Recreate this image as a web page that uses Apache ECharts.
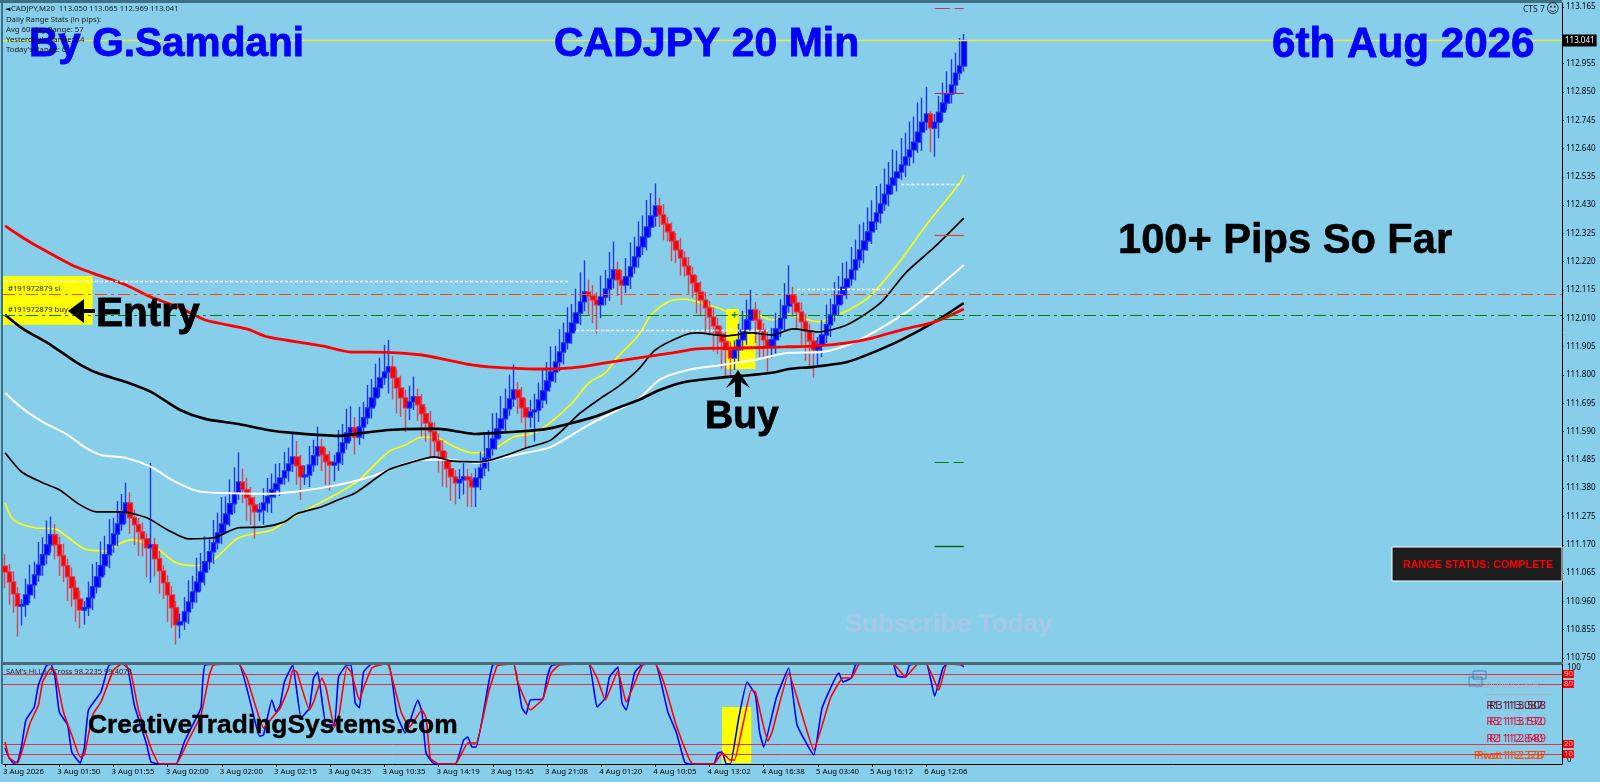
<!DOCTYPE html>
<html><head><meta charset="utf-8">
<style>html,body{margin:0;padding:0;background:#87CEEB}#c{width:1600px;height:782px}</style>
<script src="https://cdn.jsdelivr.net/npm/echarts@6/dist/echarts.min.js"></script>
</head><body><div id="c"></div>
<script>
const tickLabels=['3 Aug 2026','3 Aug 01:50','3 Aug 01:55','3 Aug 02:00','3 Aug 02:00','3 Aug 02:15','3 Aug 04:35','3 Aug 10:35','3 Aug 14:19','3 Aug 15:45','3 Aug 21:08','4 Aug 01:20','4 Aug 10:05','4 Aug 13:02','4 Aug 16:38','5 Aug 03:40','5 Aug 16:12','6 Aug 12:06'];
const priceTicks=[113.165,112.955,112.850,112.745,112.640,112.535,112.430,112.325,112.220,112.115,112.010,111.905,111.800,111.695,111.590,111.485,111.380,111.275,111.170,111.065,110.960,110.855,110.750];
const firstOpen=111.090;
const closes=[111.069,111.032,110.988,110.943,110.948,110.984,111.021,111.058,111.095,111.133,111.170,111.207,111.170,111.129,111.092,111.051,111.010,110.969,110.928,110.936,110.973,111.014,111.051,111.092,111.133,111.170,111.210,111.247,111.288,111.325,111.270,111.244,111.218,111.192,111.159,111.170,111.118,111.073,111.029,110.984,110.936,110.873,110.884,110.921,110.958,110.995,111.032,111.069,111.107,111.144,111.177,111.214,111.247,111.284,111.322,111.362,111.403,111.374,111.344,111.318,111.292,111.299,111.325,111.348,111.374,111.396,111.418,111.444,111.470,111.496,111.463,111.422,111.429,111.466,111.500,111.533,111.504,111.478,111.466,111.474,111.511,111.548,111.585,111.604,111.570,111.607,111.641,111.678,111.715,111.752,111.789,111.811,111.830,111.789,111.752,111.715,111.678,111.700,111.719,111.689,111.656,111.622,111.589,111.555,111.518,111.485,111.452,111.422,111.400,111.411,111.422,111.411,111.385,111.418,111.455,111.492,111.526,111.563,111.600,111.637,111.674,111.711,111.744,111.715,111.678,111.644,111.663,111.670,111.707,111.741,111.778,111.811,111.848,111.885,111.919,111.956,111.993,112.030,112.071,112.108,112.093,112.078,112.060,112.089,112.119,112.156,112.190,112.153,112.134,112.164,112.201,112.238,112.275,112.312,112.349,112.390,112.427,112.394,112.360,112.331,112.297,112.264,112.234,112.204,112.171,112.141,112.108,112.078,112.049,112.015,111.982,111.952,111.923,111.893,111.863,111.893,111.930,111.967,112.004,112.041,112.004,111.967,111.930,111.904,111.930,111.971,112.011,112.056,112.097,112.067,112.034,111.997,111.963,111.926,111.893,111.911,111.948,111.986,112.023,112.060,112.097,112.126,112.156,112.190,112.227,112.264,112.297,112.331,112.368,112.401,112.434,112.471,112.505,112.531,112.553,112.579,112.609,112.635,112.664,112.701,112.738,112.768,112.716,112.738,112.775,112.809,112.842,112.876,112.920,112.946,113.041];
// wick lengths in thousandths of a yen above the body top / below the body bottom
const wickUp=[45,30,40,25,20,60,75,50,85,65,90,68,40,30,45,25,35,28,30,25,60,85,55,90,70,95,60,85,70,75,40,30,25,35,20,303,25,30,20,28,32,25,30,55,80,60,90,70,95,55,85,75,100,65,90,96,110,50,45,40,30,25,55,70,60,75,55,70,60,85,60,40,35,70,60,75,30,25,40,30,85,70,90,80,40,75,60,85,70,90,75,100,100,40,35,45,30,60,75,30,40,25,45,35,28,40,30,35,25,40,50,30,25,35,60,85,70,95,60,85,75,90,95,30,40,35,45,60,65,85,70,95,60,85,75,95,70,90,110,118,45,40,30,80,70,100,105,30,35,70,90,75,95,80,100,85,83,30,40,25,35,30,45,25,35,30,28,40,30,25,35,30,28,35,30,35,60,70,75,75,30,35,25,30,45,60,70,85,110,30,25,35,30,25,30,30,55,75,60,85,70,90,65,85,75,95,70,90,80,100,75,95,85,105,80,100,90,105,95,110,90,100,10,30,60,75,85,95,75,104,24];
const wickDown=[60,85,70,113,73,45,30,50,25,40,35,30,55,75,60,90,70,85,68,55,30,45,25,40,35,50,30,45,25,40,60,75,90,65,110,130,65,85,60,100,75,73,50,30,45,25,40,35,50,30,45,25,40,30,45,35,25,50,85,75,100,35,55,35,60,30,45,25,40,30,70,86,30,45,25,35,60,85,95,60,30,45,25,30,65,30,45,25,40,30,35,25,80,80,95,70,90,45,30,60,85,70,95,60,80,100,70,90,80,60,55,100,75,75,45,30,50,25,40,35,45,25,30,60,55,114,40,110,45,30,50,25,40,35,45,25,40,30,45,35,70,85,105,50,30,45,35,60,74,30,45,25,40,30,50,35,40,45,60,35,75,50,65,40,70,55,80,60,90,70,95,75,100,100,73,45,50,40,55,35,85,100,70,94,40,50,30,45,25,50,65,85,110,95,103,60,45,30,45,25,40,35,45,25,40,30,50,35,45,30,40,25,45,35,50,30,45,35,50,40,70,30,90,106,60,35,25,35,30,25,20];
const maRedThick=[[0,112.353],[4,112.312],[8,112.275],[16,112.208],[21,112.178],[29,112.134],[35,112.089],[42,112.049],[48,112.004],[58,111.971],[63,111.941],[76,111.908],[83,111.885],[92,111.884],[100,111.874],[106,111.856],[112,111.837],[116,111.830],[127,111.822],[131,111.822],[138,111.830],[144,111.845],[152,111.863],[160,111.882],[166,111.897],[176,111.900],[187,111.904],[195,111.908],[202,111.919],[208,111.937],[216,111.971],[223,111.997],[230,112.045]];
const maBlackThick=[[0,112.023],[4,111.974],[11,111.911],[17,111.848],[22,111.808],[29,111.774],[35,111.737],[42,111.670],[48,111.637],[56,111.618],[63,111.596],[69,111.585],[80,111.574],[86,111.585],[92,111.596],[100,111.600],[104,111.600],[109,111.589],[113,111.581],[118,111.585],[125,111.592],[130,111.600],[136,111.622],[142,111.648],[147,111.678],[152,111.707],[157,111.744],[163,111.774],[171,111.789],[179,111.800],[184,111.808],[188,111.822],[194,111.830],[202,111.848],[208,111.882],[215,111.930],[223,111.997],[230,112.067]];
const maWhite=[[0,111.733],[4,111.678],[9,111.626],[15,111.578],[19,111.533],[23,111.503],[29,111.492],[35,111.459],[40,111.411],[46,111.370],[52,111.362],[63,111.359],[69,111.366],[76,111.381],[83,111.403],[89,111.429],[95,111.466],[100,111.485],[106,111.485],[113,111.474],[119,111.492],[125,111.511],[131,111.533],[140,111.615],[147,111.670],[152,111.711],[157,111.782],[164,111.819],[172,111.837],[180,111.856],[188,111.882],[196,111.885],[204,111.923],[216,112.030],[223,112.115],[230,112.208]];
const maBlackThin=[[0,111.511],[4,111.440],[9,111.400],[13,111.374],[18,111.318],[22,111.292],[28,111.292],[34,111.270],[39,111.225],[44,111.192],[50,111.196],[56,111.233],[62,111.236],[67,111.255],[70,111.285],[76,111.311],[80,111.337],[84,111.362],[92,111.448],[97,111.474],[103,111.496],[107,111.481],[114,111.477],[119,111.496],[125,111.529],[131,111.559],[138,111.659],[143,111.715],[147,111.756],[152,111.822],[156,111.893],[163,111.948],[166,111.956],[173,111.945],[179,111.956],[184,111.948],[189,111.971],[195,111.960],[202,111.986],[210,112.067],[216,112.178],[223,112.275],[230,112.382]];
const maYellow=[[0,111.325],[2,111.262],[7,111.233],[12,111.229],[15,111.199],[19,111.155],[24,111.147],[27,111.170],[30,111.188],[32,111.184],[36,111.162],[41,111.103],[46,111.092],[50,111.114],[56,111.196],[64,111.225],[69,111.273],[76,111.329],[80,111.362],[85,111.411],[92,111.515],[96,111.540],[100,111.570],[104,111.566],[107,111.540],[112,111.511],[116,111.515],[122,111.570],[127,111.585],[131,111.626],[136,111.696],[140,111.770],[144,111.808],[147,111.867],[152,111.948],[155,112.023],[159,112.071],[163,112.082],[167,112.067],[171,112.049],[176,112.019],[179,112.030],[184,112.004],[188,112.023],[195,111.997],[200,112.023],[207,112.086],[214,112.208],[221,112.356],[229,112.512],[230,112.542]];
const stochBlue=[[0,16],[1,6],[2,1],[3,2],[4,19],[5,44],[7,57],[8,79],[10,99],[11,100],[12,86],[13,52],[15,39],[16,12],[18,1],[19,16],[20,54],[23,72],[25,99],[29,100],[31,59],[34,19],[35,2],[37,0],[41,0],[43,22],[45,39],[47,56],[48,99],[56,100],[59,59],[61,28],[62,29],[64,64],[65,52],[66,59],[67,82],[69,99],[71,46],[73,56],[74,86],[75,92],[77,39],[79,39],[80,87],[82,99],[83,99],[84,61],[85,56],[86,92],[88,100],[92,100],[94,49],[96,31],[99,64],[100,52],[101,11],[103,0],[108,0],[110,24],[111,27],[112,17],[113,17],[116,81],[117,99],[119,100],[122,100],[124,56],[125,50],[126,64],[129,65],[130,86],[131,98],[133,100],[140,100],[142,57],[144,66],[145,87],[147,97],[148,61],[149,54],[151,91],[153,100],[156,100],[159,52],[161,32],[163,2],[164,0],[170,0],[171,11],[172,12],[173,0],[174,0],[176,46],[178,82],[180,69],[181,32],[182,17],[185,66],[188,96],[190,39],[194,9],[196,56],[200,91],[201,82],[203,86],[204,99],[205,100],[213,100],[214,88],[216,87],[217,99],[221,100],[223,68],[225,96],[226,100],[229,100],[230,97]];
const stochRed=[[0,22],[1,6],[3,1],[4,12],[6,41],[8,59],[9,82],[11,96],[12,92],[14,52],[16,29],[18,7],[19,9],[21,49],[23,62],[26,94],[28,100],[30,94],[32,54],[35,16],[37,0],[41,0],[44,24],[47,49],[49,89],[50,99],[56,100],[58,86],[60,59],[62,36],[64,46],[66,56],[68,76],[69,94],[70,92],[73,54],[74,62],[76,86],[77,76],[79,37],[80,46],[82,97],[83,92],[85,64],[86,76],[88,96],[91,100],[92,99],[95,52],[97,37],[100,54],[101,46],[102,6],[104,0],[108,0],[111,21],[113,21],[116,72],[118,98],[119,99],[122,100],[123,82],[126,54],[127,57],[129,65],[131,91],[133,99],[140,100],[142,86],[144,64],[147,93],[149,62],[152,91],[153,99],[156,100],[158,82],[161,39],[164,6],[165,0],[170,0],[172,11],[174,4],[175,4],[179,74],[180,72],[183,23],[184,32],[188,91],[191,52],[194,14],[198,66],[201,86],[203,86],[205,100],[213,100],[216,87],[219,100],[221,100],[224,74],[226,100],[230,99]];
const stochLevels=[90,80,20,10];

const BANDS=374;
const categories=Array.from({length:BANDS},(_,i)=>(i%13===0&&tickLabels[i/13])||'');
const candleData=closes.map((c,i)=>{
  const o=i?closes[i-1]:firstOpen;
  return [o,c,+(Math.min(o,c)-wickDown[i]/1000).toFixed(3),+(Math.max(o,c)+wickUp[i]/1000).toFixed(3)];
});
const seg=(a,b,p)=>[{coord:[a,p]},{coord:[b,p]}];
const FONT='"Liberation Sans",Arial,sans-serif', UI='"Noto Sans",Tahoma,sans-serif';
const txt=(x,y,text,fs,fill,o={})=>({type:'text',x,y,z:o.z||100,silent:true,style:{text,fontSize:fs,fontFamily:o.ff||FONT,fontWeight:o.w||'normal',fill,stroke:o.st||null,lineWidth:o.st?(o.lw||1):0,textAlign:o.a||'left',textVerticalAlign:'middle',opacity:o.op==null?1:o.op}});
const rect=(x,y,w,h,fill,o={})=>({type:'rect',z:o.z||1,silent:true,shape:{x,y,width:w,height:h},style:{fill:fill,stroke:o.s||null,lineWidth:o.lw||0}});
const poly=(points,fill)=>({type:'polygon',z:100,silent:true,shape:{points},style:{fill}});
const graphicEls=[
 rect(0,0,1562,3,'#3e6f84'),rect(1,0,2,764,'#3e6f84'),rect(3,662,1559,3,'#4a6a78',{z:60}),
 rect(3,276,4,49,'#ffff00',{z:1}),
 rect(1392,547,170,34,'#1e1e1e',{s:'#ffffff',lw:1,z:50}),
 txt(1403,565,'RANGE STATUS: COMPLETE',10.8,'#ff0000',{w:'bold',z:51}),
 txt(29,45,'By G.Samdani',40.6,'#0000ff',{w:'bold',st:'#0000ff',lw:.8}),
 txt(554,45,'CADJPY 20 Min',41,'#0000ff',{w:'bold',st:'#0000ff',lw:.8}),
 txt(1272,45,'6th Aug 2026',42.2,'#0000ff',{w:'bold',st:'#0000ff',lw:.8}),
 txt(1118,242,'100+ Pips So Far',41.6,'#000000',{w:'bold',st:'#000',lw:.6}),
 poly([[68,311],[84,299],[84,309],[95,309],[95,313],[84,313],[84,323]],'#000'),
 txt(96,315,'Entry',40.6,'#000000',{w:'bold',st:'#000',lw:.8}),
 poly([[738,370],[750,388],[741,382],[741,397],[735,397],[735,382],[726,388]],'#000'),
 txt(705,417,'Buy',39,'#000000',{w:'bold',st:'#000',lw:.8}),
 txt(88,726,'CreativeTradingSystems.com',26.4,'#000000',{w:'bold',st:'#000',lw:.4}),
 txt(845,625,'Subscribe Today',26,'#a8c8ea',{w:'bold'}),
 txt(5,9,'◄',7,'#000000',{z:110,ff:'"DejaVu Sans"'}),
 txt(11,9,'CADJPY,M20  113.050 113.065 112.969 113.041',7.7,'#1a1a1a',{z:110,ff:UI}),
 txt(6,20,'Daily Range Stats (in pips):',7.7,'#1a1a1a',{z:110,ff:UI}),
 txt(6,30,'Avg 60-day Range: 57',7.7,'#1a1a1a',{z:110,ff:UI}),
 txt(6,40,"Yesterday's Range: 84",7.7,'#1a1a1a',{z:110,ff:UI}),
 txt(6,50,"Today's Range: 61",7.7,'#1a1a1a',{z:110,ff:UI}),
 txt(8,289,'#191972879 sl',7.7,'#1a1a1a',{z:110,ff:UI}),
 txt(8,310,'#191972879 buy',7.7,'#1a1a1a',{z:110,ff:UI}),
 txt(1523,10,'CTS 7',8.5,'#1a1a1a',{z:110,ff:UI}),
 txt(1546,10,'☺',13,'#2a2a2a',{z:110,ff:'"DejaVu Sans"'}),
 txt(6,672,"SAM's Hi.Lo.2Cross 98.2235 99.4078",7.5,'#2a2a2a',{z:110,ff:UI}),
 rect(1473,671,13,8,'none',{s:'#4682b4',lw:1,z:70}),rect(1469,677,13,9,'none',{s:'#4682b4',lw:1,z:70}),
 rect(1480,677,73,1,'#a9b5c0',{z:65}),rect(1485,694,68,1,'#a9b5c0',{z:65}),
 txt(1476,686,'Daily Pivot Levels',8,'#a8b4c4',{z:65,ff:UI}),
 ...[['R3 113.508',706,'#701028'],['R2 113.570',722,'#dc143c'],['R1 112.589',739,'#dc143c'],['Pivot 112.537',756,'#ff4500']].map(r=>txt(1546,r[1],r[0],11,r[2],{a:'right',z:70,ff:UI})),
 ...[['R1 113.087',706,'#701028'],['R3 113.192',722,'#dc143c'],['R2 112.840',739,'#dc143c'],['Pivot 112.378',756,'#ff4500']].map(r=>txt(1543,r[1],r[0],11,r[2],{a:'right',z:70,ff:UI})),
];
const lineS=(name,data,color,width,z)=>({name,type:'line',data,xAxisIndex:0,yAxisIndex:0,symbol:'none',smooth:0.25,smoothConstraint:false,z,lineStyle:{color,width},silent:true});
const stochS=(name,data,color,extra)=>Object.assign({name,type:'line',data,xAxisIndex:1,yAxisIndex:1,symbol:'none',smooth:0.12,z:5,lineStyle:{color,width:1.6},silent:true},extra||{});
const dot=(a,b,p)=>[{...seg(a,b,p)[0],lineStyle:{color:'#fff',width:1.3,type:[3,2]},label:{show:false}},seg(a,b,p)[1]];
const lvl=(p,color,width,type)=>[{...seg(223,230,p)[0],lineStyle:{color,width,type},label:{show:false}},seg(223,230,p)[1]];
const chart=echarts.init(document.getElementById('c'),null,{renderer:'canvas'});
chart.setOption({
 animation:false,backgroundColor:'#87CEEB',
 graphic:{elements:graphicEls},
 grid:[{left:3,right:38,top:3,height:659},{left:3,right:38,top:664,height:100}],
 xAxis:[
  {type:'category',gridIndex:0,data:categories,show:false},
  {type:'category',gridIndex:1,data:categories,axisLine:{lineStyle:{color:'#000',width:1}},
   axisTick:{show:true,length:3,alignWithLabel:true,interval:i=>i%13===0&&i<=221,lineStyle:{color:'#000'}},
   axisLabel:{interval:12,align:'left',margin:4,color:'#000',fontSize:7.8,fontFamily:UI,showMinLabel:true,padding:[0,0,0,-2]}}
 ],
 yAxis:[
  {type:'value',gridIndex:0,position:'right',min:110.735,max:113.18,splitLine:{show:false},
   axisLine:{show:true,lineStyle:{color:'#000',width:1}},
   axisTick:{show:true,length:2,customValues:priceTicks,lineStyle:{color:'#000'}},
   axisLabel:{customValues:priceTicks,margin:4,color:'#000',fontSize:8,fontFamily:UI,formatter:v=>v.toFixed(3)}},
  {type:'value',gridIndex:1,position:'right',min:0,max:100,interval:100,splitLine:{show:false},
   axisLine:{show:true,lineStyle:{color:'#000',width:1}},axisTick:{show:false},
   axisLabel:{margin:5,color:'#000',fontSize:8,fontFamily:UI,verticalAlignMaxLabel:'top',verticalAlignMinLabel:'bottom'}}
 ],
 series:[
  {name:'CADJPY',type:'candlestick',xAxisIndex:0,yAxisIndex:0,data:candleData,barWidth:5,z:2,silent:true,
   itemStyle:{color:'#0000ff',color0:'#ff0000',borderColor:'rgba(20,40,240,0.9)',borderColor0:'rgba(225,40,60,0.8)',borderWidth:1.4},
   markArea:{silent:true,itemStyle:{color:'#ffff00',opacity:1},data:[
     [{coord:[0,112.167]},{coord:[21,111.986]}],
     [{coord:[173,112.045]},{coord:[176,111.822]}],
     [{coord:[176,111.956]},{coord:[180,111.822]}]]},
   markLine:{silent:true,symbol:'none',precision:3,animation:false,data:[
     {yAxis:113.041,lineStyle:{color:'#e8e84a',width:1.4,type:'solid'},label:{show:true,position:'end',formatter:'113.041',distance:1,color:'#fff',backgroundColor:'#000',padding:[2,2,2,2],fontSize:8,fontFamily:UI}},
     {yAxis:112.099,lineStyle:{color:'#ff4500',width:1,type:[12,4,3,4]},label:{show:false}},
     {yAxis:112.023,lineStyle:{color:'#008000',width:1,type:[12,4,3,4]},label:{show:false}},
     lvl(113.160,'#d0305a',1,[15,5,10,4]),
     lvl(112.846,'#c02050',1,'solid'),
     lvl(112.320,'#e0402a',1.2,'solid'),
     lvl(112.005,'#008000',1,'solid'),
     lvl(111.477,'#008000',1,[14,5,10,4]),
     lvl(111.163,'#006400',1.4,'solid'),
     dot(0,135,112.149),dot(137,183,111.967),dot(190,212,112.119),dot(215,229,112.509)
   ]}},
  lineS('MA yellow',maYellow,'#ffff00',1.6,1.5),
  lineS('MA white',maWhite,'#ffffff',2,3),
  lineS('MA black thin',maBlackThin,'#000000',1.7,3),
  lineS('MA black thick',maBlackThick,'#000000',2.6,3),
  lineS('MA red',maRedThick,'#ff0000',2.8,4),
  {name:'Entry mark',type:'scatter',xAxisIndex:0,yAxisIndex:0,data:[[175,112.023]],symbol:'path://M3,0h2v3h3v2h-3v3h-2v-3h-3v-2h3z',symbolSize:6,itemStyle:{color:'#008000'},z:6,silent:true},
  stochS('Hi.Lo blue',stochBlue,'#0000ff',{
    markArea:{silent:true,itemStyle:{color:'#ffff00',opacity:1},data:[[{coord:[172,57]},{coord:[179,1]}]]},
    markLine:{silent:true,symbol:'none',animation:false,lineStyle:{color:'#e0304a',width:1,type:'solid'},
      label:{show:true,position:'end',distance:1,formatter:p=>String(p.value),backgroundColor:'#ff0000',color:'#ffc8c8',fontSize:7.8,lineHeight:8,fontFamily:UI,padding:[0,1,0,1]},
      data:stochLevels.map(v=>({yAxis:v}))}}),
  stochS('Hi.Lo red',stochRed,'#ff0000')
 ]
});
</script></body></html>
